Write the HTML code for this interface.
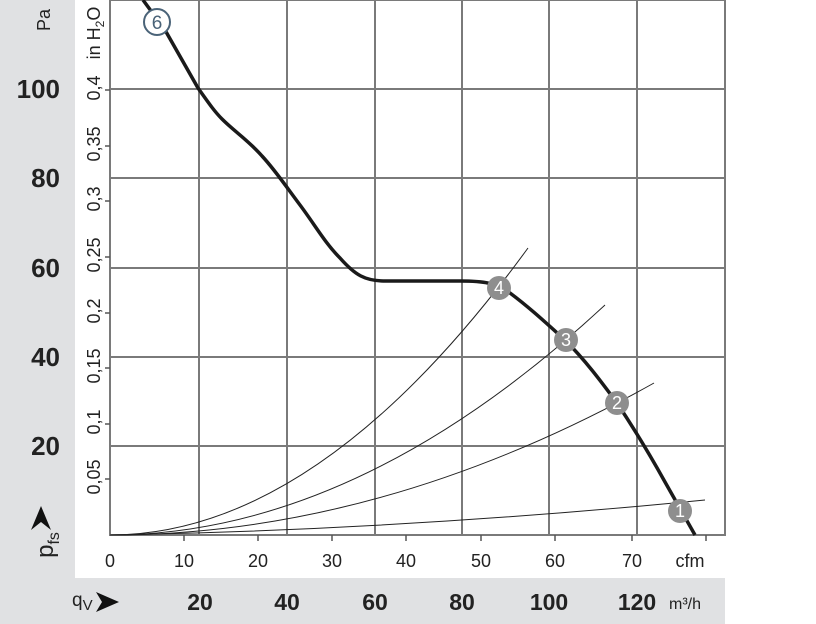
<!DOCTYPE html>
<html><head><style>
body{margin:0;background:#fff;}
svg{display:block;font-family:"Liberation Sans",sans-serif;}
</style></head><body>
<svg width="816" height="624" viewBox="0 0 816 624">
<rect x="0" y="0" width="75" height="578" fill="#e0e1e3"/>
<rect x="0" y="578" width="725" height="46" fill="#e0e1e3"/>
<g stroke="#7a7a7a" stroke-width="2">
<line x1="199" y1="0" x2="199" y2="535"/><line x1="287" y1="0" x2="287" y2="535"/>
<line x1="375" y1="0" x2="375" y2="535"/><line x1="462" y1="0" x2="462" y2="535"/>
<line x1="549" y1="0" x2="549" y2="535"/><line x1="637" y1="0" x2="637" y2="535"/>
<line x1="110" y1="89" x2="725" y2="89"/><line x1="110" y1="178" x2="725" y2="178"/>
<line x1="110" y1="268" x2="725" y2="268"/><line x1="110" y1="357" x2="725" y2="357"/>
<line x1="110" y1="446" x2="725" y2="446"/>
<rect x="110" y="0" width="615" height="535" fill="none"/>
</g>
<g stroke="#555" stroke-width="1.5">
<line x1="184" y1="535" x2="184" y2="541"/><line x1="258" y1="535" x2="258" y2="541"/>
<line x1="332" y1="535" x2="332" y2="541"/><line x1="406" y1="535" x2="406" y2="541"/>
<line x1="481" y1="535" x2="481" y2="541"/><line x1="555" y1="535" x2="555" y2="541"/>
<line x1="632" y1="535" x2="632" y2="541"/><line x1="706" y1="535" x2="706" y2="541"/>
<line x1="105" y1="90" x2="110" y2="90"/><line x1="105" y1="146" x2="110" y2="146"/>
<line x1="105" y1="201" x2="110" y2="201"/><line x1="105" y1="257" x2="110" y2="257"/>
<line x1="105" y1="313" x2="110" y2="313"/><line x1="105" y1="368" x2="110" y2="368"/>
<line x1="105" y1="424" x2="110" y2="424"/><line x1="105" y1="479" x2="110" y2="479"/>
</g>
<g fill="none" stroke="#222" stroke-width="1">
<path d="M110,535 Q319,535 528,248"/>
<path d="M110,535 Q357,535 605,305"/>
<path d="M110,535 Q382,535 654,383"/>
<path d="M110,535 Q400,530 705,500"/>
</g>
<path d="M143,0 L165,30 L198,88 C210,105 215,112 222,119 C235,132 248,140 262,156 C275,170 285,185 300,205 C315,225 325,243 340,258 C355,275 365,281 385,281 L460,281 C485,281 495,283 510,293 C530,308 545,322 565,340 C585,360 600,380 617,403 C635,430 650,455 665,482 L695,535" fill="none" stroke="#1a1a1a" stroke-width="3.5"/>
<circle cx="157" cy="22" r="13" fill="#fff" stroke="#4a6378" stroke-width="2"/>
<text x="157" y="29" font-size="19" fill="#4a6378" text-anchor="middle">6</text>
<g fill="#8e8e8e"><circle cx="499" cy="288" r="12"/><circle cx="566" cy="340" r="12"/><circle cx="617" cy="403" r="12"/><circle cx="680" cy="511" r="12"/></g>
<g fill="#fff" font-size="18" text-anchor="middle"><text x="499" y="294">4</text><text x="566" y="346">3</text><text x="617" y="409">2</text><text x="680" y="517">1</text></g>
<g font-size="26" font-weight="bold" fill="#222" text-anchor="end">
<text x="60" y="98" transform="scale(1,1)">100</text><text x="60" y="187">80</text><text x="60" y="277">60</text><text x="60" y="366">40</text><text x="60" y="455">20</text>
</g>
<g font-size="23" font-weight="bold" fill="#222" text-anchor="middle">
<text x="200" y="610">20</text><text x="287" y="610">40</text><text x="375" y="610">60</text><text x="462" y="610">80</text><text x="549" y="610">100</text><text x="637" y="610">120</text>
</g>
<text x="669" y="609" font-size="16" fill="#222">m³/h</text>
<g font-size="18" fill="#222" text-anchor="middle">
<text x="110" y="567">0</text><text x="184" y="567">10</text><text x="258" y="567">20</text><text x="332" y="567">30</text><text x="406" y="567">40</text><text x="481" y="567">50</text><text x="555" y="567">60</text><text x="632" y="567">70</text><text x="690" y="567">cfm</text>
</g>
<g font-size="18" fill="#222" text-anchor="middle">
<text transform="translate(100,88) rotate(-90)">0,4</text>
<text transform="translate(100,144) rotate(-90)">0,35</text>
<text transform="translate(100,199) rotate(-90)">0,3</text>
<text transform="translate(100,255) rotate(-90)">0,25</text>
<text transform="translate(100,311) rotate(-90)">0,2</text>
<text transform="translate(100,366) rotate(-90)">0,15</text>
<text transform="translate(100,422) rotate(-90)">0,1</text>
<text transform="translate(100,477) rotate(-90)">0,05</text>
<text transform="translate(100,33) rotate(-90)">in H<tspan font-size="12" dy="4">2</tspan><tspan dy="-4">O</tspan></text>
<text transform="translate(50,20) rotate(-90)">Pa</text>
<text transform="translate(53,545) rotate(-90)" font-size="24">p<tspan font-size="16" dy="6">fs</tspan></text>
</g>
<path d="M41,506 L31,530 L41,522 L51,530 Z" fill="#111"/>
<text x="72" y="606" font-size="19" fill="#222">q<tspan font-size="15" dy="4">V</tspan></text>
<path d="M96,592 L119,602 L96,612 L102,602 Z" fill="#111"/>
</svg>
</body></html>
